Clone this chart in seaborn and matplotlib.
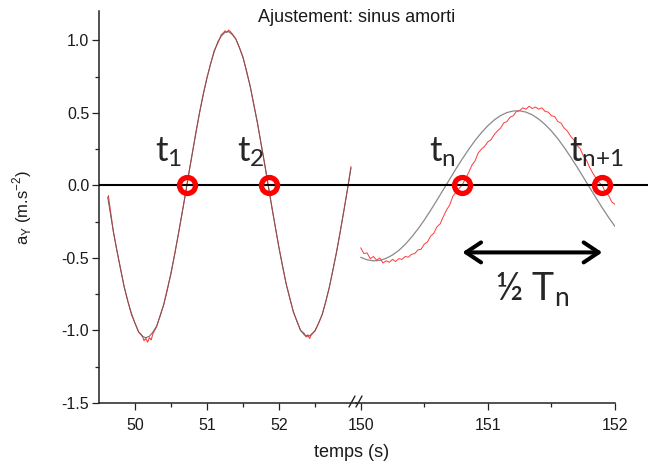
import matplotlib
matplotlib.use("Agg")
import matplotlib.pyplot as plt
from matplotlib.lines import Line2D
from matplotlib.ticker import FixedLocator
import seaborn as sns

# ---------------- data ----------------
# first window (t in s, a_Y in m.s-2): fitted damped sine
fit_left_t = [49.62, 49.65, 49.70, 49.75, 49.80, 49.85, 49.90, 49.95, 50.00, 50.05,
              50.10, 50.15, 50.20, 50.25, 50.30, 50.35, 50.40, 50.45, 50.50, 50.55,
              50.60, 50.65, 50.70, 50.75, 50.80, 50.85, 50.90, 50.95, 51.00, 51.05,
              51.10, 51.15, 51.20, 51.25, 51.30, 51.35, 51.40, 51.45, 51.50, 51.55,
              51.60, 51.65, 51.70, 51.75, 51.80, 51.85, 51.90, 51.95, 52.00, 52.05,
              52.10, 52.15, 52.20, 52.25, 52.30, 52.35, 52.40, 52.45, 52.50, 52.55,
              52.60, 52.65, 52.70, 52.75, 52.80, 52.85, 52.90, 52.95, 53.00]
fit_left_v = [-0.08, -0.17, -0.32, -0.45, -0.58, -0.70, -0.80, -0.88, -0.95, -1.01,
              -1.04, -1.05, -1.04, -1.01, -0.97, -0.90, -0.82, -0.72, -0.60, -0.48,
              -0.34, -0.20, -0.06, 0.09, 0.23, 0.38, 0.51, 0.63, 0.74, 0.84,
              0.92, 0.99, 1.03, 1.055, 1.06, 1.04, 1.01, 0.95, 0.88, 0.79,
              0.68, 0.56, 0.43, 0.29, 0.15, 0.00, -0.15, -0.29, -0.43, -0.56,
              -0.68, -0.78, -0.87, -0.94, -1.00, -1.03, -1.04, -1.03, -1.00, -0.95,
              -0.89, -0.80, -0.70, -0.58, -0.46, -0.32, -0.18, -0.03, 0.12]

# first window: measured signal
meas_left_t = [49.63, 49.70, 49.75, 49.80, 49.85, 49.90, 49.95, 50.00, 50.05, 50.10,
               50.125, 50.15, 50.175, 50.20, 50.225, 50.25, 50.30, 50.35, 50.40, 50.45,
               50.50, 50.55, 50.60, 50.65, 50.70, 50.75, 50.80, 50.85, 50.90, 50.95,
               51.00, 51.05, 51.10, 51.15, 51.20, 51.225, 51.25, 51.275, 51.30, 51.325,
               51.35, 51.40, 51.45, 51.50, 51.55, 51.60, 51.65, 51.70, 51.75, 51.80,
               51.85, 51.90, 51.95, 52.00, 52.05, 52.10, 52.15, 52.20, 52.25, 52.30,
               52.35, 52.375, 52.40, 52.425, 52.45, 52.50, 52.55, 52.60, 52.65, 52.70,
               52.75, 52.80, 52.85, 52.90, 52.95, 53.00]
meas_left_v = [-0.07, -0.32, -0.455, -0.575, -0.70, -0.795, -0.89, -0.95, -1.01, -1.035,
               -1.07, -1.055, -1.08, -1.05, -1.065, -1.02, -0.975, -0.895, -0.82, -0.71,
               -0.61, -0.475, -0.345, -0.205, -0.06, 0.09, 0.235, 0.37, 0.51, 0.635,
               0.745, 0.835, 0.93, 0.98, 1.04, 1.05, 1.065, 1.055, 1.07, 1.06,
               1.045, 1.01, 0.95, 0.885, 0.78, 0.685, 0.555, 0.435, 0.29, 0.15,
               0.0, -0.145, -0.29, -0.43, -0.555, -0.68, -0.775, -0.875, -0.935, -1.0,
               -1.02, -1.045, -1.03, -1.055, -1.025, -1.005, -0.95, -0.89, -0.80, -0.70,
               -0.58, -0.455, -0.32, -0.175, -0.03, 0.13]

# second window: fitted damped sine
fit_right_t = [150.00, 150.05, 150.10, 150.15, 150.20, 150.25, 150.30, 150.35, 150.40, 150.45,
               150.50, 150.55, 150.60, 150.65, 150.70, 150.75, 150.80, 150.85, 150.90, 150.95,
               151.00, 151.05, 151.10, 151.15, 151.20, 151.25, 151.30, 151.35, 151.40, 151.45,
               151.50, 151.55, 151.60, 151.65, 151.70, 151.75, 151.80, 151.85, 151.90, 151.95,
               152.00]
fit_right_v = [-0.496, -0.513, -0.520, -0.517, -0.503, -0.480, -0.448, -0.407, -0.357, -0.301,
               -0.239, -0.172, -0.101, -0.029, 0.043, 0.115, 0.184, 0.249, 0.310, 0.364,
               0.411, 0.451, 0.481, 0.502, 0.513, 0.514, 0.505, 0.486, 0.457, 0.420,
               0.375, 0.322, 0.262, 0.197, 0.129, 0.058, -0.014, -0.085, -0.155, -0.221,
               -0.283]

# second window: measured signal
meas_right_t = [150.000, 150.025, 150.050, 150.075, 150.100, 150.125, 150.150, 150.175, 150.200, 150.225,
                150.250, 150.275, 150.300, 150.325, 150.350, 150.375, 150.400, 150.425, 150.450, 150.475,
                150.500, 150.525, 150.550, 150.575, 150.600, 150.625, 150.650, 150.675, 150.700, 150.725,
                150.750, 150.775, 150.800, 150.825, 150.850, 150.875, 150.900, 150.925, 150.950, 150.975,
                151.000, 151.025, 151.050, 151.075, 151.100, 151.125, 151.150, 151.175, 151.200, 151.225,
                151.250, 151.275, 151.300, 151.325, 151.350, 151.375, 151.400, 151.425, 151.450, 151.475,
                151.500, 151.525, 151.550, 151.575, 151.600, 151.625, 151.650, 151.675, 151.700, 151.725,
                151.750, 151.775, 151.800, 151.825, 151.850, 151.875, 151.900, 151.925, 151.950, 151.975,
                152.000]
meas_right_v = [-0.43, -0.47, -0.465, -0.505, -0.49, -0.515, -0.50, -0.535, -0.52, -0.53,
                -0.51, -0.525, -0.505, -0.51, -0.49, -0.495, -0.475, -0.47, -0.445, -0.44,
                -0.405, -0.39, -0.35, -0.33, -0.285, -0.265, -0.215, -0.17, -0.135, -0.075,
                -0.045, -0.02, 0.005, 0.05, 0.09, 0.14, 0.17, 0.225, 0.25, 0.27,
                0.30, 0.315, 0.35, 0.375, 0.395, 0.43, 0.44, 0.47, 0.48, 0.51,
                0.515, 0.535, 0.525, 0.545, 0.53, 0.54, 0.525, 0.535, 0.51, 0.505,
                0.48, 0.475, 0.44, 0.43, 0.395, 0.375, 0.34, 0.315, 0.275, 0.255,
                0.205, 0.175, 0.125, 0.085, 0.05, 0.02, 0.0, -0.05, -0.07, -0.115,
                -0.13]

# zero crossings of the measured signal
cross_left = [50.72, 51.86]
cross_right = [150.80, 151.90]
cross_labels_left = ["t_1", "t_2"]
cross_labels_right = ["t_n", "t_{n{+}1}"]

left_xticks = [50, 51, 52]
right_xticks = [150, 151, 152]
yticks = [-1.5, -1.0, -0.5, 0.0, 0.5, 1.0]

# ---------------- style ----------------
sns.set_style("ticks")
plt.rcParams["font.family"] = ["Liberation Sans", "DejaVu Sans"]
plt.rcParams["axes.unicode_minus"] = False

W, H = 648, 467
fig = plt.figure(figsize=(W / 100, H / 100), dpi=100)
fig.patch.set_facecolor("white")


def box(x0, x1, ytop, ybot):
    return [x0 / W, 1 - ybot / H, (x1 - x0) / W, (ybot - ytop) / H]


ax_l = fig.add_axes(box(99, 356, 11.3, 403))
ax_r = fig.add_axes(box(356, 615, 11.3, 403))

RED = "#ff3a3a"
GREY = "#8a8a8a"
AX = "#222222"
ANNOT_FONT = ["Lato", "DejaVu Sans"]

for ax in (ax_l, ax_r):
    ax.patch.set_alpha(0)
    ax.set_ylim(-1.5, 1.2)
    for s in ("top", "right"):
        ax.spines[s].set_visible(False)
    ax.spines["bottom"].set_linewidth(1.1)
    ax.spines["bottom"].set_color(AX)
    ax.tick_params(axis="both", which="major", direction="out", length=5,
                   width=0.9, color=AX, labelsize=11.5, labelcolor="#1a1a1a")
    ax.tick_params(axis="both", which="minor", direction="out", length=3,
                   width=0.9, color=AX)
    ax.tick_params(axis="x", which="major", pad=5.5)

ax_l.spines["left"].set_linewidth(1.1)
ax_l.spines["left"].set_color(AX)
ax_l.tick_params(axis="y", which="major", pad=2)
ax_r.spines["left"].set_visible(False)
ax_r.tick_params(axis="y", which="both", left=False, labelleft=False)

ax_l.set_xlim(49.5, 49.5 + 257 / 72)
ax_r.set_xlim(150 - 4.7 / 127.3, 152)

ax_l.set_xticks(left_xticks)
ax_l.set_xticklabels([str(v) for v in left_xticks])
ax_l.xaxis.set_minor_locator(FixedLocator([50.5, 51.5, 52.5]))
ax_l.set_yticks(yticks)
ax_l.set_yticklabels([f"{v:.1f}" for v in yticks])
ax_l.yaxis.set_minor_locator(FixedLocator([-1.25, -0.75, -0.25, 0.25, 0.75]))

ax_r.set_xticks(right_xticks)
ax_r.set_xticklabels([str(v) for v in right_xticks])
ax_r.xaxis.set_minor_locator(FixedLocator([150.5, 151.5]))
ax_r.set_yticks([])

# curves
sns.lineplot(x=meas_left_t, y=meas_left_v, ax=ax_l, color=RED, lw=0.8,
             sort=False, estimator=None, legend=False, zorder=2)
sns.lineplot(x=fit_left_t, y=fit_left_v, ax=ax_l, color="#6e5a5a", lw=0.7,
             sort=False, estimator=None, legend=False, zorder=2.5)
sns.lineplot(x=fit_right_t, y=fit_right_v, ax=ax_r, color=GREY, lw=0.9,
             sort=False, estimator=None, legend=False, zorder=2)
sns.lineplot(x=meas_right_t, y=meas_right_v, ax=ax_r, color=RED, lw=0.7,
             sort=False, estimator=None, legend=False, zorder=2.5)

# zero line, running out to the right edge
ax_l.axhline(0, color="black", lw=1.5, zorder=3)
ax_r.axhline(0, xmin=0, xmax=(W - 356) / (615 - 356), color="black", lw=1.5,
             zorder=3, clip_on=False)

# crossing markers and their labels
for ax, xs, labels, dx in ((ax_l, cross_left, cross_labels_left, -0.44),
                           (ax_r, cross_right, cross_labels_right, -0.26)):
    ax.plot(xs, [0.0] * len(xs), "o", ms=11.5, mfc="none", mec="#ff0000",
            mew=3.8, zorder=4)
    for x, lab in zip(xs, labels):
        ax.text(x + dx, 0.163, rf"$\mathregular{{{lab}}}$", ha="left",
                va="baseline", fontsize=25, family=ANNOT_FONT, zorder=5)

# half-period arrow
y_arrow = -0.462
ax_r.annotate("", xy=(cross_right[1], y_arrow), xytext=(cross_right[0], y_arrow),
              arrowprops=dict(arrowstyle="<->,head_length=0.54,head_width=0.36",
                              lw=2.9, color="black", mutation_scale=20,
                              shrinkA=0, shrinkB=0), zorder=5)
ax_r.text(151.055, -0.788, r"½ $\mathregular{T_n}$", ha="left", va="baseline",
          fontsize=27, family=ANNOT_FONT, zorder=5)

# axis break marks
for x in (352, 359):
    fig.add_artist(Line2D([(x - 3) / W, (x + 3) / W], [1 - 407 / H, 1 - 396 / H],
                          transform=fig.transFigure, color=AX, lw=1.0))

# titles and axis labels
fig.text(357 / W, 1 - 21.7 / H, "Ajustement: sinus amorti", ha="center",
         va="baseline", fontsize=13, color="#1a1a1a")
fig.text(352 / W, 1 - 457 / H, "temps (s)", ha="center", va="baseline",
         fontsize=13, color="#1a1a1a")
fig.text(22 / W, 1 - 207 / H, r"a$_\mathregular{Y}$ (m.s$^\mathregular{-2}$)",
         rotation=90, ha="center", va="center", fontsize=12, color="#1a1a1a")

fig.savefig("out.png", dpi=100)
